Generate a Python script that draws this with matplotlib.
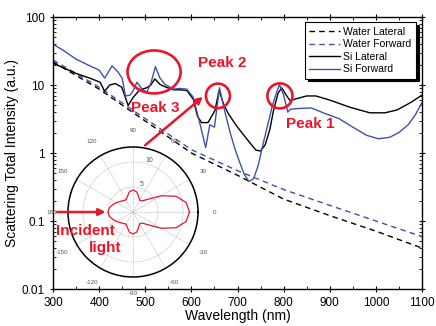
import numpy as np
import matplotlib.pyplot as plt
from matplotlib.patches import Ellipse
from matplotlib.ticker import MultipleLocator, FixedLocator, FixedFormatter, LogLocator, NullFormatter

plt.rcParams['font.family'] = ['Liberation Sans', 'DejaVu Sans']

# ---- data ----
water_nm = [300, 400, 500, 600, 700, 800, 900, 1000, 1100]
water_lateral = [21.9, 8.7, 2.95, 1.0, 0.47, 0.21, 0.12, 0.071, 0.040]
water_forward = [23.4, 9.3, 3.2, 1.12, 0.55, 0.29, 0.17, 0.10, 0.059]

si_fwd_nm = [300, 320, 350, 380, 400, 412, 428, 440, 450, 457, 467, 474, 482, 492,
             503, 512, 522, 532, 543, 561, 575, 590, 604, 618, 631, 640, 650, 661,
             672, 684, 695, 705, 715, 725, 735, 745, 755, 765, 775, 783, 791, 800,
             809, 815, 830, 860, 890, 920, 950, 980, 1005, 1030, 1050, 1070, 1085, 1100]
si_fwd = [39.8, 33.1, 24.0, 19.1, 16.6, 12.6, 19.1, 15.8, 12.6, 6.9, 7.1, 8.3, 11.0, 8.9,
          7.8, 10.5, 18.6, 12.6, 10.2, 8.7, 8.9, 8.7, 6.6, 2.8, 1.2, 2.6, 2.4, 9.1,
          4.2, 2.0, 1.12, 0.72, 0.48, 0.38, 0.42, 0.66, 1.32, 2.5, 4.8, 7.2, 10.2, 7.1,
          4.0, 4.4, 4.5, 4.6, 3.8, 3.2, 2.4, 1.82, 1.62, 1.70, 2.0, 2.6, 3.6, 5.5]

si_lat_nm = [300, 320, 350, 380, 402, 412, 423, 435, 449, 463, 474, 488, 503, 512,
             521, 532, 545, 561, 575, 590, 604, 613, 622, 636, 651, 660, 670, 680,
             698, 715, 727, 740, 750, 760, 770, 778, 788, 796, 805, 814, 828, 850,
             870, 900, 944, 987, 1020, 1046, 1075, 1100]
si_lat = [20.9, 18.2, 14.8, 12.6, 11.0, 8.1, 10.0, 10.5, 9.3, 5.0, 6.6, 8.5, 9.1, 10.0,
          12.3, 10.2, 9.3, 8.5, 8.5, 8.3, 6.2, 3.5, 2.8, 2.8, 4.2, 8.3, 5.2, 3.8,
          2.5, 1.78, 1.41, 1.10, 1.07, 1.32, 2.2, 4.2, 7.6, 9.1, 7.2, 5.9, 6.3, 6.9,
          6.9, 6.0, 4.7, 3.9, 3.9, 4.3, 5.5, 7.1]

# inset: scattering pattern
pattern_deg = list(range(0, 370, 10))
pattern_r = [11.3, 10.8, 9.2, 6.5, 4.0, 2.9, 2.7, 3.3, 4.1, 4.4, 4.1, 3.3, 2.8, 3.0, 3.3, 3.8, 4.3, 4.8, 5.0,
             4.8, 4.3, 3.8, 3.3, 3.0, 2.8, 3.3, 4.1, 4.4, 4.1, 3.3, 2.7, 2.9, 4.0, 6.5, 9.2, 10.8, 11.3]
angle_labels = ['0', '30', '60', '90', '120', '150', '180', '-150', '-120', '-90', '-60', '-30']

blue = '#3f52a4'
red = '#e8152b'

fig = plt.figure(figsize=(4.36, 3.26), dpi=100)
ax = fig.add_axes([53 / 436, 1 - 289 / 326, 369 / 436, 272 / 326])

ax.plot(water_nm, water_lateral, color='black', ls=(0, (4, 3)), lw=1.0, label='Water Lateral')
ax.plot(water_nm, water_forward, color=blue, ls=(0, (4, 3)), lw=1.0, label='Water Forward')
ax.plot(si_lat_nm, si_lat, color='black', lw=1.0, label='Si Lateral')
ax.plot(si_fwd_nm, si_fwd, color=blue, lw=1.0, label='Si Forward')

ax.set_yscale('log')
ax.set_xlim(300, 1100)
ax.set_ylim(0.01, 100)
ax.yaxis.set_major_locator(FixedLocator([0.01, 0.1, 1, 10, 100]))
ax.yaxis.set_major_formatter(FixedFormatter(['0.01', '0.1', '1', '10', '100']))
ax.yaxis.set_minor_locator(LogLocator(base=10, subs=np.arange(2, 10)))
ax.yaxis.set_minor_formatter(NullFormatter())
ax.xaxis.set_major_locator(MultipleLocator(100))
ax.xaxis.set_minor_locator(MultipleLocator(50))
ax.tick_params(which='major', direction='inout', length=5, width=0.8, labelsize=8.5,
               top=True, right=True)
ax.tick_params(which='minor', direction='in', length=2.5, width=0.6, top=True, right=True)
for s in ax.spines.values():
    s.set_linewidth(1.0)

ax.set_xlabel('Wavelength (nm)', fontsize=10, labelpad=0)
ax.set_ylabel('Scattering Total Intensity (a.u.)', fontsize=10, labelpad=2)

leg = ax.legend(loc='upper right', bbox_to_anchor=(0.983, 0.98), fontsize=7.5,
                fancybox=False, shadow={'color': 'black', 'alpha': 1},
                edgecolor='black', handlelength=3.0, labelspacing=0.25,
                borderpad=0.4, handletextpad=0.3, borderaxespad=0)
leg.get_frame().set_linewidth(0.8)

# red annotations on the main plot
ax.add_patch(Ellipse((0.274, 0.798), 0.144, 0.158, transform=ax.transAxes,
                     fill=False, ec=red, lw=1.9, zorder=6))
ax.add_patch(Ellipse((0.447, 0.710), 0.065, 0.090, transform=ax.transAxes,
                     fill=False, ec=red, lw=1.9, zorder=6))
ax.add_patch(Ellipse((0.615, 0.710), 0.068, 0.092, transform=ax.transAxes,
                     fill=False, ec=red, lw=1.9, zorder=6))
tk = dict(color=red, fontsize=11, fontweight='bold', ha='center', va='center',
          transform=ax.transAxes, zorder=7)
ax.text(0.458, 0.831, 'Peak 2', **tk)
ax.text(0.278, 0.665, 'Peak 3', **tk)
ax.text(0.698, 0.607, 'Peak 1', **tk)
ax.annotate('', xy=(0.412, 0.713), xytext=(0.244, 0.522), xycoords='axes fraction',
            arrowprops=dict(arrowstyle='-|>', color=red, lw=1.8, mutation_scale=10), zorder=7)

# inset polar plot
axp = fig.add_axes([68 / 436, 1 - 277 / 326, 130 / 436, 130 / 326], projection='polar')
axp.plot(np.deg2rad(pattern_deg), pattern_r, color=red, lw=0.9)
axp.set_rlim(0, 13)
axp.set_rticks([5, 10])
axp.set_rlabel_position(75)
axp.set_thetagrids(range(0, 360, 30), angle_labels)
axp.tick_params(axis='x', labelsize=4.5, colors='#555555', pad=1.5)
axp.tick_params(axis='y', labelsize=5, colors='#555555')
axp.grid(color='#bbbbbb', lw=0.5, ls=(0, (2, 1)))
axp.spines['polar'].set_linewidth(1.1)
axp.set_facecolor('white')

# "Incident light" label and arrow drawn above the inset
tk_in = dict(tk, clip_on=False)
axp.text(0.087, 0.215, 'Incident', **tk_in)
axp.text(0.140, 0.150, 'light', **tk_in)
axp.annotate('', xy=(0.150, 0.283), xytext=(0.003, 0.283),
             xycoords=ax.transAxes, textcoords=ax.transAxes, annotation_clip=False,
             arrowprops=dict(arrowstyle='-|>', color=red, lw=1.8, mutation_scale=10), zorder=8)

fig.savefig('out.png', dpi=100)
